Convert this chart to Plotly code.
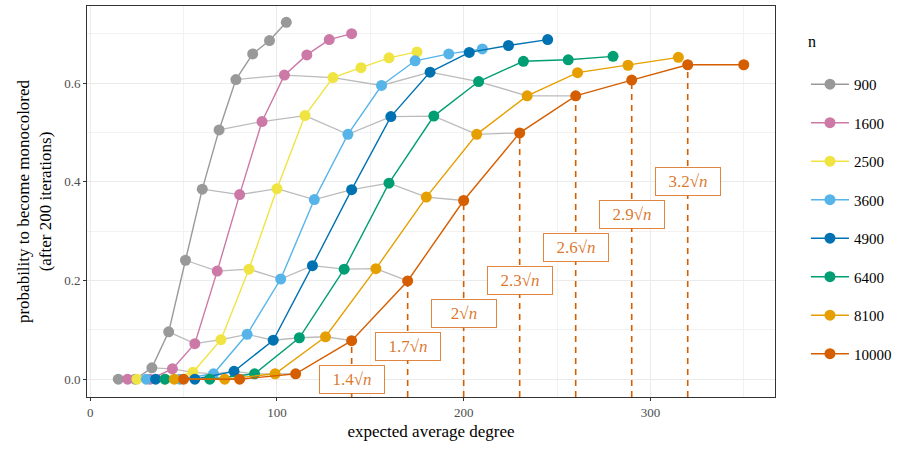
import numpy as np
import plotly.graph_objects as go

# ---- data ----
n_values = [900, 1600, 2500, 3600, 4900, 6400, 8100, 10000]
c_factors = [0.5, 0.8, 1.1, 1.4, 1.7, 2.0, 2.3, 2.6, 2.9, 3.2, 3.5]

p_900 = [0, 0, 0.023, 0.096, 0.241, 0.385, 0.505, 0.607, 0.659, 0.686, 0.723]
p_1600 = [0, 0, 0.021, 0.072, 0.219, 0.374, 0.522, 0.616, 0.657, 0.688, 0.700]
p_2500 = [0, 0, 0.014, 0.080, 0.223, 0.386, 0.534, 0.611, 0.631, 0.651, 0.663]
p_3600 = [0, 0, 0.011, 0.091, 0.203, 0.364, 0.496, 0.595, 0.645, 0.659, 0.669]
p_4900 = [0, 0, 0.016, 0.079, 0.230, 0.384, 0.532, 0.622, 0.662, 0.676, 0.688]
p_6400 = [0, 0, 0.011, 0.084, 0.223, 0.397, 0.533, 0.603, 0.644, 0.647, 0.654]
p_8100 = [0, 0, 0.011, 0.086, 0.224, 0.369, 0.496, 0.574, 0.621, 0.636, 0.652]
p_10000 = [0, 0, 0.011, 0.078, 0.199, 0.362, 0.499, 0.574, 0.606, 0.637, 0.637]

series = [p_900, p_1600, p_2500, p_3600, p_4900, p_6400, p_8100, p_10000]
colors = ["#999999", "#CC79A7", "#F0E442", "#56B4E9", "#0072B2", "#009E73", "#E69F00", "#D55E00"]

# constant-factor curves (grey) drawn for these factors
grey_factors = [0.5, 0.8, 1.1, 1.4, 1.7, 2.0, 2.3, 2.6]
# marked factors for n = 10000 (dashed lines + labels)
marked_factors = [1.4, 1.7, 2.0, 2.3, 2.6, 2.9, 3.2]
marked_labels = ["1.4", "1.7", "2", "2.3", "2.6", "2.9", "3.2"]
label_y = [0.0, 0.067, 0.133, 0.2, 0.267, 0.333, 0.4]

FONT = "Liberation Serif"
Y_RANGE = [-0.036, 0.756]
X_RANGE = [-1.75, 366.75]

fig = go.Figure()

# grey connecting lines (same factor across n)
for c in grey_factors:
    i = c_factors.index(c)
    xs = [c * np.sqrt(n) for n in n_values]
    ys = [s[i] for s in series]
    fig.add_trace(go.Scatter(x=xs, y=ys, mode="lines",
                             line=dict(color="#BBBBBB", width=1.3),
                             showlegend=False, hoverinfo="skip"))

# main series
for n, s, col in zip(n_values, series, colors):
    xs = [c * np.sqrt(n) for c in c_factors]
    fig.add_trace(go.Scatter(x=xs, y=s, mode="lines+markers", name=str(n),
                             legendgroup=str(n),
                             line=dict(color=col, width=1.4),
                             marker=dict(color=col, size=11)))

# dashed segments for n = 10000
s_last = series[-1]
n_last = n_values[-1]
for c in marked_factors:
    i = c_factors.index(c)
    x = c * np.sqrt(n_last)
    fig.add_trace(go.Scatter(x=[x, x], y=[Y_RANGE[0], s_last[i]], mode="lines",
                             line=dict(color="#D55E00", width=1.6, dash="6px,5px"),
                             showlegend=False, hoverinfo="skip"))

# labels
for c, lab, ly in zip(marked_factors, marked_labels, label_y):
    x = c * np.sqrt(n_last)
    fig.add_annotation(x=x, y=ly, xref="x", yref="y", showarrow=False,
                       text=lab + "√<i>n</i>",
                       font=dict(family=FONT, size=17, color="rgba(213,94,0,0.85)"),
                       bgcolor="white", bordercolor="rgba(213,94,0,0.75)",
                       borderwidth=1, borderpad=3, width=58, height=21)

axis_common = dict(
    showline=True, linecolor="#333333", linewidth=1, mirror=True,
    ticks="outside", ticklen=3, tickcolor="#333333",
    tickfont=dict(family=FONT, size=13, color="#4D4D4D"),
    showgrid=True, gridcolor="#EBEBEB", gridwidth=1, zeroline=False,
    automargin=False,
)

fig.update_xaxes(range=X_RANGE, dtick=100, tick0=0,
                 minor=dict(dtick=50, showgrid=True, gridcolor="#F2F2F2", gridwidth=0.6),
                 title=dict(text="expected average degree",
                            font=dict(family=FONT, size=17, color="black"), standoff=6),
                 **axis_common)
fig.update_yaxes(range=Y_RANGE, dtick=0.2, tick0=0, tickformat=".1f",
                 minor=dict(dtick=0.1, showgrid=True, gridcolor="#F2F2F2", gridwidth=0.6),
                 title=dict(text="probability to become monocolored<br>(after 200 iterations)",
                            font=dict(family=FONT, size=17, color="black"), standoff=8),
                 **axis_common)

fig.update_layout(
    width=897, height=449,
    margin=dict(l=87, r=122, t=6, b=52, autoexpand=False),
    plot_bgcolor="white", paper_bgcolor="white",
    font=dict(family=FONT, color="black"),
    legend=dict(x=1.045, y=0.948, xanchor="left", yanchor="top",
                title=dict(text="n<br>", font=dict(family=FONT, size=16)),
                font=dict(family=FONT, size=15), itemwidth=38,
                tracegroupgap=16, bgcolor="rgba(0,0,0,0)"),
)

fig.write_html("out.html", config={"displayModeBar": False},
               post_script="document.body.style.margin='0px';")
